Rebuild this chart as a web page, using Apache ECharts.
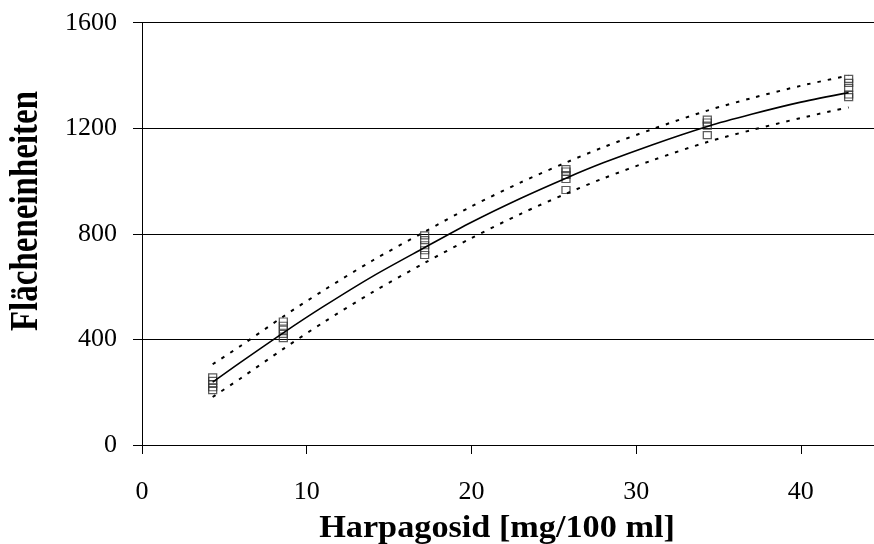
<!DOCTYPE html>
<html>
<head>
<meta charset="utf-8">
<script src="https://cdn.jsdelivr.net/npm/echarts@6/dist/echarts.min.js"></script>
<style>
html,body{margin:0;padding:0;background:#fff;}
#chart{width:874px;height:544px;}
</style>
</head>
<body>
<div id="chart"></div>
<script>
// Concentration levels (x) and replicate peak areas (y)
const concentrations = [4.29, 8.58, 17.16, 25.74, 34.32, 42.9];
const areasLevel1 = [256, 243, 231, 219, 208];
const areasLevel2 = [468, 452, 437, 421, 405];
const areasLevel3 = [794, 776, 757, 738, 720];
const areasLevel4 = [1045, 1036, 1023, 1008, 966];
const areasLevel5 = [1233, 1222, 1210, 1174];
const areasLevel6 = [1387, 1372, 1353, 1328, 1318];

// Calibration curve and band
const curveX = [4.29, 6, 8.58, 11, 14, 17.16, 20, 23, 25.74, 28, 31, 34.32, 37, 40, 42.9];
const curveY = [238, 314, 425, 524, 639, 748, 844, 935, 1011, 1069, 1138, 1207, 1253, 1299, 1335];
const upperY = [306, 376, 487, 585, 699, 808, 904, 995, 1070, 1128, 1197, 1267, 1314, 1361, 1400];
const lowerY = [182, 253, 364, 464, 579, 690, 784, 876, 952, 1010, 1079, 1148, 1193, 1239, 1279];

// Axis ticks
const yTicks = [0, 400, 800, 1200, 1600];
const xTicks = [0, 10, 20, 30, 40];
const xTitle = 'Harpagosid [mg/100 ml]';
const yTitle = 'Flächeneinheiten';

const allLevels = [areasLevel1, areasLevel2, areasLevel3, areasLevel4, areasLevel5, areasLevel6];
const scatterData = [];
allLevels.forEach((arr, i) => arr.forEach(v => scatterData.push([concentrations[i], v])));
const pair = (xs, ys) => xs.map((x, i) => [x, ys[i]]);

const font = '"Liberation Serif", "Times New Roman", serif';
const chart = echarts.init(document.getElementById('chart'), null, {renderer: 'canvas'});
chart.setOption({
  animation: false,
  backgroundColor: '#ffffff',
  grid: {left: 142, top: 22.7, right: 0, bottom: 99, containLabel: false},
  xAxis: {
    type: 'value', min: 0, max: 44.44, interval: 10,
    axisLine: {show: true, lineStyle: {color: '#000', width: 1}},
    axisTick: {show: true, inside: false, length: 9, customValues: xTicks, lineStyle: {color: '#000'}},
    axisLabel: {
      color: '#000', fontFamily: font, fontSize: 26, margin: 34, customValues: xTicks,
      formatter: v => (xTicks.indexOf(v) >= 0 ? String(v) : '')
    },
    splitLine: {show: false}
  },
  yAxis: {
    type: 'value', min: 0, max: 1600, interval: 400,
    axisLine: {show: true, lineStyle: {color: '#000', width: 1}},
    axisTick: {show: true, inside: false, length: 9, lineStyle: {color: '#000'}},
    axisLabel: {
      color: '#000', fontFamily: font, fontSize: 26, margin: 25,
      formatter: v => (yTicks.indexOf(v) >= 0 ? String(v) : '')
    },
    splitLine: {show: true, lineStyle: {color: '#000', width: 1}}
  },
  graphic: [
    {
      type: 'text', x: 497, y: 529, scaleX: 1.07,
      style: {
        text: xTitle, x: 0, y: 0, align: 'center', verticalAlign: 'middle',
        font: 'bold 32px ' + font, fill: '#000'
      }
    },
    {
      type: 'text', x: 27, y: 211, rotation: Math.PI / 2, scaleY: 1.2,
      style: {
        text: yTitle, x: 0, y: 0, align: 'center', verticalAlign: 'middle',
        font: 'bold 33px ' + font, fill: '#000'
      }
    }
  ],
  series: [
    {
      type: 'scatter', data: scatterData, z: 2,
      symbol: 'rect', symbolSize: [8, 7],
      itemStyle: {color: 'rgba(255,255,255,0)', borderColor: '#333', borderWidth: 1.2}
    },
    {
      type: 'line', data: pair(curveX, curveY), z: 3, smooth: 0.3,
      showSymbol: false, lineStyle: {color: '#000', width: 1.6}
    },
    {
      type: 'line', data: pair(curveX, upperY), z: 3, smooth: 0.3,
      showSymbol: false, lineStyle: {color: '#000', width: 2, type: [3.5, 7]}
    },
    {
      type: 'line', data: pair(curveX, lowerY), z: 3, smooth: 0.3,
      showSymbol: false, lineStyle: {color: '#000', width: 2, type: [3.5, 7]}
    }
  ]
});
</script>
</body>
</html>
